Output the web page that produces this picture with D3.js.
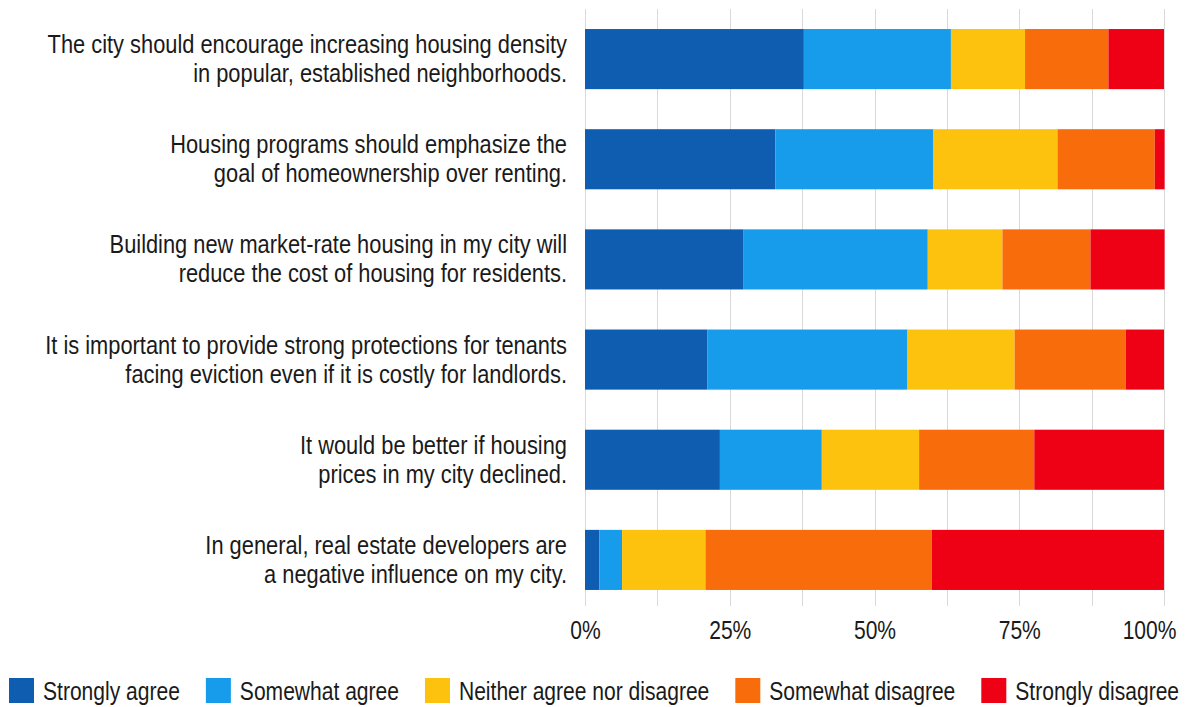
<!DOCTYPE html>
<html>
<head>
<meta charset="utf-8">
<script src="https://cdn.jsdelivr.net/npm/d3@7"></script>
<style>
  body { margin: 0; background: #fff; }
  svg text { font-family: "Liberation Sans", Arial, sans-serif; fill: #1a1a1a; }
</style>
</head>
<body>
<div id="chart"></div>
<script>
// statements, each split into two lines like the original
const statements = [
  ["The city should encourage increasing housing density", "in popular, established neighborhoods."],
  ["Housing programs should emphasize the", "goal of homeownership over renting."],
  ["Building new market-rate housing in my city will", "reduce the cost of housing for residents."],
  ["It is important to provide strong protections for tenants", "facing eviction even if it is costly for landlords."],
  ["It would be better if housing", "prices in my city declined."],
  ["In general, real estate developers are", "a negative influence on my city."]
];
const responses = ["Strongly agree", "Somewhat agree", "Neither agree nor disagree", "Somewhat disagree", "Strongly disagree"];
const colors = ["#0e5db1", "#169ceb", "#fdc20d", "#f96c0b", "#ee0015"];

// percent per statement, order of responses
const stronglyAgree    = [37.8, 32.9, 27.4, 21.1, 23.3, 2.5];
const somewhatAgree    = [25.4, 27.2, 31.8, 34.6, 17.6, 3.9];
const neither          = [12.8, 21.5, 12.9, 18.5, 16.8, 14.4];
const somewhatDisagree = [14.4, 16.8, 15.2, 19.2, 19.9, 39.1];
const stronglyDisagree = [9.6, 1.7, 12.8, 6.6, 22.4, 40.1];

const xTicks = [0, 25, 50, 75, 100];
const gridTicks = [0, 12.5, 25, 37.5, 50, 62.5, 75, 87.5, 100];

const width = 1191, height = 707;
const fontSize = 26;
const squeeze = 0.81;      // the original font is a narrow one
const labelSqueeze = 0.84;

const rows = statements.map((s, i) => ({
  key: i,
  "Strongly agree": stronglyAgree[i],
  "Somewhat agree": somewhatAgree[i],
  "Neither agree nor disagree": neither[i],
  "Somewhat disagree": somewhatDisagree[i],
  "Strongly disagree": stronglyDisagree[i]
}));

const svg = d3.select("#chart").append("svg")
  .attr("width", width)
  .attr("height", height);

const x = d3.scaleLinear().domain([0, 100]).range([585, 1164]);
const y = d3.scaleBand()
  .domain(rows.map(d => d.key))
  .range([9, 610])
  .paddingInner(0.4)
  .paddingOuter(0.2);
const color = d3.scaleOrdinal().domain(responses).range(colors);

// grid
svg.append("g")
  .selectAll("line")
  .data(gridTicks)
  .join("line")
    .attr("x1", d => Math.round(x(d)) + 0.5)
    .attr("x2", d => Math.round(x(d)) + 0.5)
    .attr("y1", 9)
    .attr("y2", 606)
    .attr("stroke", "#d9d9d9")
    .attr("stroke-width", 1);

// bars
const series = d3.stack().keys(responses)(rows);
svg.append("g")
  .selectAll("g")
  .data(series)
  .join("g")
    .attr("fill", d => color(d.key))
  .selectAll("rect")
  .data(d => d)
  .join("rect")
    .attr("x", d => x(d[0]))
    .attr("width", d => x(d[1]) - x(d[0]))
    .attr("y", d => y(d.data.key))
    .attr("height", y.bandwidth());

// x axis labels
const xAxis = svg.append("g")
  .attr("transform", "translate(0,639)")
  .call(d3.axisBottom(x).tickValues(xTicks).tickFormat(d => d + "%").tickSize(0).tickPadding(0));
xAxis.select(".domain").remove();
xAxis.selectAll("text")
  .attr("dy", 0)
  .attr("y", 0)
  .style("font-size", fontSize + "px")
  .attr("fill", "#1a1a1a")
  .each(function(d) {
    // keep the last label inside the frame
    const w = this.getComputedTextLength() * squeeze;
    const over = x(d) + w / 2 - 1176;
    const dx = over > 0 ? -over : 0;
    d3.select(this).attr("transform", `translate(${dx},0) scale(${squeeze},1)`);
  });

// category labels
svg.append("g")
  .selectAll("text")
  .data(statements)
  .join("text")
    .attr("text-anchor", "end")
    .style("font-size", fontSize + "px")
    .attr("transform", (d, i) => `translate(567,${y(i) + y.bandwidth() / 2 - 6}) scale(${labelSqueeze},1)`)
  .selectAll("tspan")
  .data(d => d)
  .join("tspan")
    .attr("x", 0)
    .attr("y", (d, j) => j * 29)
    .text(d => d);

// legend
const legend = svg.append("g");
const items = legend.selectAll("g")
  .data(responses)
  .join("g");
items.append("rect")
  .attr("width", 25)
  .attr("height", 25)
  .attr("y", 678)
  .attr("fill", d => color(d));
items.append("text")
  .attr("transform", `translate(34,700) scale(${squeeze},1)`)
  .style("font-size", fontSize + "px")
  .text(d => d);

let cx = 9;
items.each(function() {
  const w = 34 + d3.select(this).select("text").node().getComputedTextLength() * squeeze;
  d3.select(this).attr("transform", `translate(${cx},0)`);
  cx += w + 26;
});
</script>
</body>
</html>
